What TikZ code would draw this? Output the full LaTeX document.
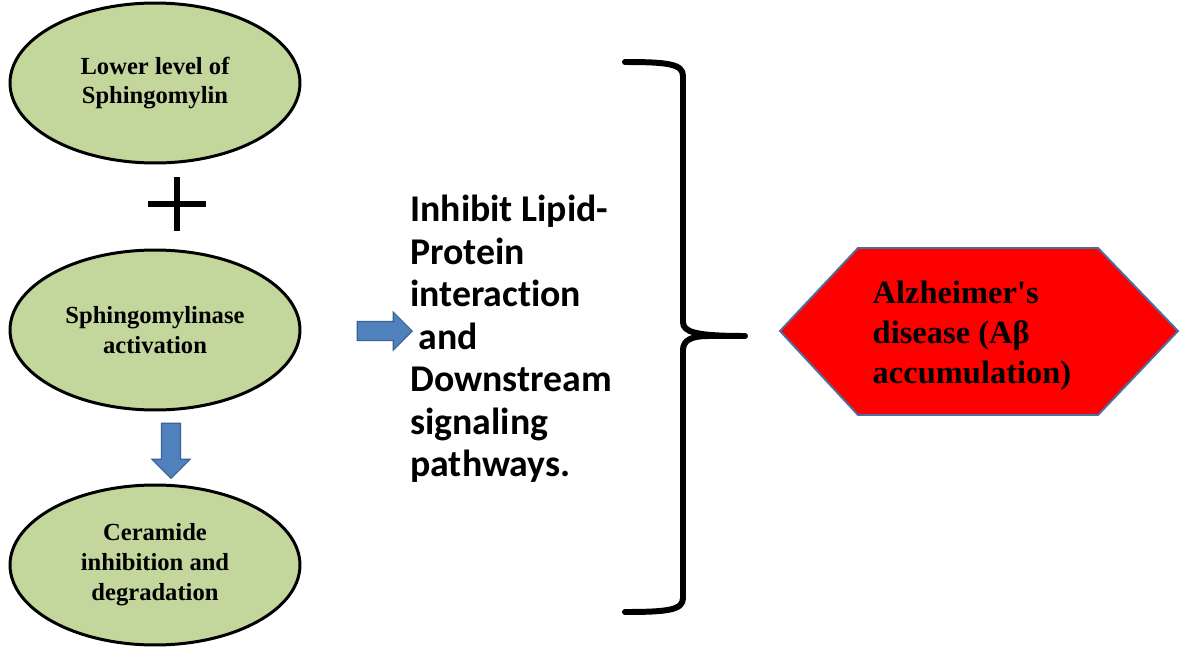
\documentclass[tikz,border=0pt]{standalone}
\usepackage{fontspec}
\setmainfont{Liberation Serif}
\newfontfamily\carlito[Ligatures=NoCommon]{Carlito}
\usetikzlibrary{shapes.geometric,shapes.arrows}
\definecolor{leaf}{HTML}{C3D69B}
\definecolor{arrowblue}{HTML}{4F81BD}
\definecolor{arrowedge}{HTML}{3A6294}
\definecolor{hexedge}{HTML}{4A6FA0}

\begin{document}
\begin{tikzpicture}
  [x=0.02cm,y=-0.02cm,
   oval/.style={ellipse,draw=black,line width=1.7pt,fill=leaf,
     minimum width=5.8cm,minimum height=3.2cm,inner sep=0pt,align=center,
     font=\fontsize{14}{17}\selectfont\bfseries},
   blockarrow/.style={single arrow,draw=arrowedge,fill=arrowblue,line width=0.6pt,
     minimum height=1.1cm,single arrow head extend=0.19cm,inner sep=0.18cm},
   brace/.style={line width=3.4pt,line cap=round,line join=round}]
  \useasboundingbox (0,0) rectangle (1181,653);

  \node[oval] (lower) at (155,83)  {Lower level of\\Sphingomylin};
  \node[oval] (smase) at (155,330) {Sphingomylinase\\activation};
  \node[oval] (cer)   at (155,565) {Ceramide\\inhibition and\\degradation};

  % plus sign
  \coordinate (plus) at (177,204);
  \draw[line width=3.4pt] ([xshift=-0.58cm]plus) -- ([xshift=0.58cm]plus)
    ([yshift=0.54cm]plus) -- ([yshift=-0.54cm]plus);

  \node[blockarrow,shape border rotate=270] (down) at (171,446) {};
  \node[blockarrow] (right) at (380,331) {};

  \node[anchor=north west,inner sep=0pt,align=left,
    font=\carlito\bfseries\fontsize{21.5}{24.2}\selectfont] (effect) at (410,195)
    {Inhibit Lipid-\\Protein\\interaction\\\hspace*{0.22em}and\\Downstream\\signaling\\pathways.};

  % brace
  \coordinate (tip) at (745,336);
  \draw[brace] (625,62) .. controls (668,62) and (683,64) .. (683,76) -- (683,322)
    .. controls (683,332) and (695,336) .. (tip) -- (708,336)
    .. controls (692,336) and (683,340) .. (683,350) -- (683,598)
    .. controls (683,610) and (668,612) .. (625,612);

  % hexagon
  \draw[fill=red,draw=hexedge,line width=1.1pt]
    (780,331) -- (858,248) -- (1098,248) -- (1178,331) -- (1098,415) -- (858,415) -- cycle;
  \node[align=left,inner sep=0pt,font=\fontsize{18.5}{22.7}\selectfont\bfseries] (ad) at (972,336)
    {Alzheimer\textquotesingle s\\disease (Aβ\\accumulation)};
\end{tikzpicture}
\end{document}
